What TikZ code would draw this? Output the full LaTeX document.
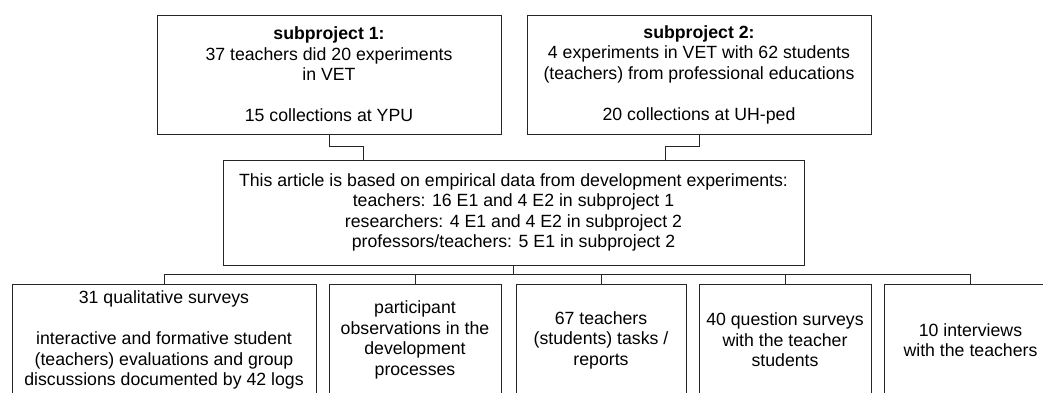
\documentclass[tikz,border=0pt]{standalone}
\usepackage{fontspec}
\setmainfont{Liberation Sans}

\begin{document}
\begin{tikzpicture}[x=1pt, y=-1pt, box/.style={draw=black!85, line width=1pt,
	inner sep=0pt, align=center, font=\fontsize{17.7}{20.5}\selectfont},
	wire/.style={draw=black!85, line width=1pt}]
\useasboundingbox (0,0) rectangle (1043,392);
\node[box, minimum width=344pt, minimum height=119pt] (sp1) at (329, 74.5)
	{\textbf{subproject 1:}\\37 teachers did 20 experiments\\in VET\\[20.5pt]15 collections at YPU};
\node[box, minimum width=344pt, minimum height=119pt] (sp2) at (699, 74.5)
	{\textbf{subproject 2:}\\4 experiments in VET with 62 students\\(teachers) from professional educations\\[20.5pt]20 collections at UH-ped};
\node[box, minimum width=581pt, minimum height=105pt] (art) at (513.5, 212.5)
	{This article is based on empirical data from development experiments:\\teachers: 16 E1 and 4 E2 in subproject 1\\researchers: 4 E1 and 4 E2 in subproject 2\\professors/teachers: 5 E1 in subproject 2};
\node[box, minimum width=304pt, minimum height=112pt] (b1) at (164, 340)
	{31 qualitative surveys\\[20.5pt]interactive and formative student\\(teachers) evaluations and group\\discussions documented by 42 logs};
\node[box, minimum width=172pt, minimum height=112pt] (b2) at (415, 340)
	{participant\\observations in the\\development\\processes};
\node[box, minimum width=170pt, minimum height=112pt] (b3) at (601, 340)
	{67 teachers\\(students) tasks /\\reports};
\node[box, minimum width=172pt, minimum height=112pt] (b4) at (785, 340)
	{40 question surveys\\with the teacher\\students};
\node[box, minimum width=173pt, minimum height=112pt] (b5) at (970.5, 340)
	{10 interviews\\with the teachers};
% subprojects into the article box
\coordinate (in1) at ([xshift=-150.5pt]art.north);
\coordinate (in2) at ([xshift=151.5pt]art.north);
\draw[wire] (sp1.south) -- ++(0,12) -| (in1);
\draw[wire] (sp2.south) -- ++(0,12) -| (in2);
% bus down to the data sources
\coordinate (bus) at ([yshift=-9pt]art.south);
\draw[wire] (art.south) -- (bus);
\foreach \n in {b1,b2,b3,b4,b5}
	\draw[wire] (bus) -| (\n.north);
\end{tikzpicture}
\end{document}
